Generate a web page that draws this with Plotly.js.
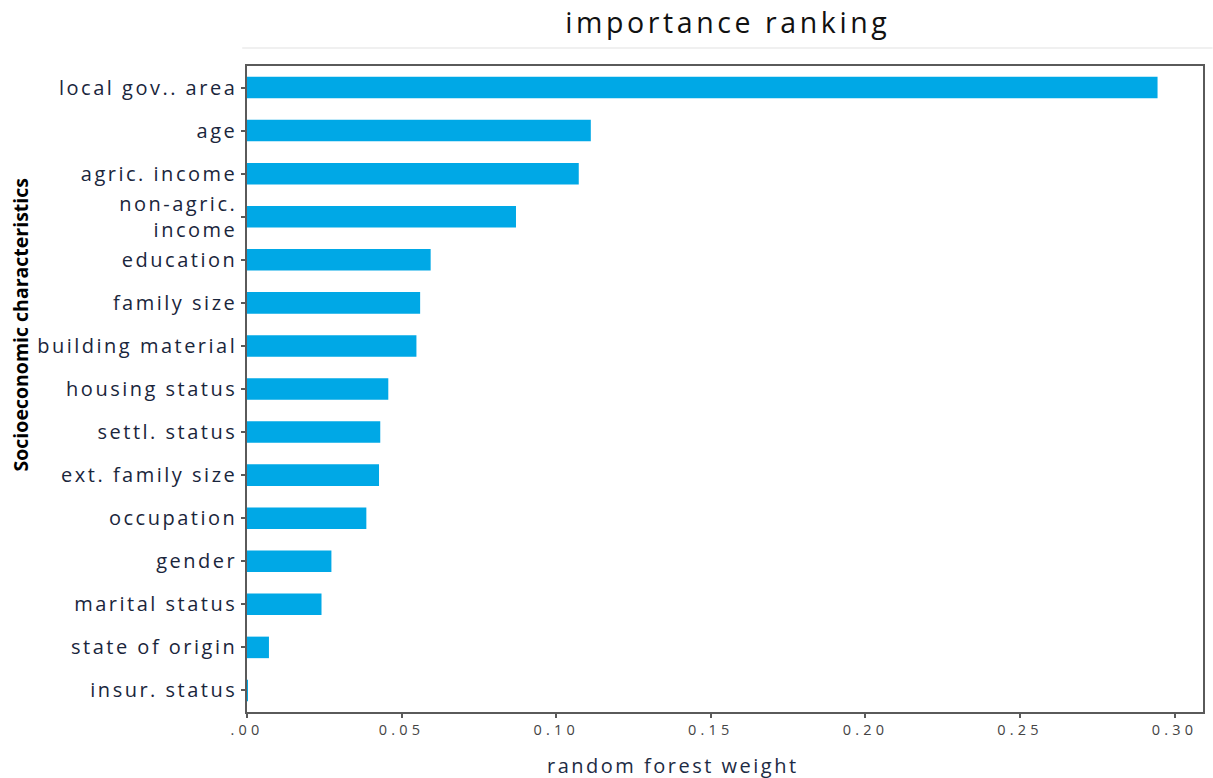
<!DOCTYPE html>
<html>
<head>
<meta charset="utf-8">
<script src="https://cdn.plot.ly/plotly-3.0.1.min.js"></script>
<style>
html,body{margin:0;padding:0;background:#fff;}
#chart{width:1213px;height:778px;}
#chart .ytick text{letter-spacing:2.5px;}
#chart .xtick text{letter-spacing:4.2px;}
#chart .gtitle{letter-spacing:3.6px;}
#chart g.annotation[data-index="0"] text{letter-spacing:2.5px;}
</style>
</head>
<body>
<div id="chart"></div>
<script>
// Data (top to bottom as displayed)
const categories = ["local gov.. area", "age", "agric. income", "non-agric.<br>income", "education",
  "family size", "building material", "housing status", "settl. status", "ext. family size",
  "occupation", "gender", "marital status", "state of origin", "insur. status"];
const weights = [0.2945, 0.1112, 0.1073, 0.0870, 0.0594, 0.0560, 0.0548, 0.0457, 0.0431, 0.0427,
  0.0386, 0.0273, 0.0241, 0.0071, 0.0002];
const xTickVals = [0, 0.05, 0.10, 0.15, 0.20, 0.25, 0.30];
const xTickText = [".00", "0.05", "0.10", "0.15", "0.20", "0.25", "0.30"];

const labelFont = "Open Sans, Lato, sans-serif";

const trace = {
  type: "bar",
  orientation: "h",
  y: categories,
  x: weights,
  width: 0.5,
  marker: {color: "#00a8e6", line: {width: 0}},
  hoverinfo: "x+y"
};

const layout = {
  width: 1213, height: 778,
  paper_bgcolor: "#ffffff", plot_bgcolor: "#ffffff",
  margin: {l: 247, r: 10, t: 66, b: 66},
  showlegend: false,
  title: {text: "importance ranking", x: 0.6, xanchor: "center", y: 0.970, yanchor: "middle",
    font: {family: labelFont, size: 28.5, color: "#111111"}},
  xaxis: {
    range: [0, 0.3092], tickvals: xTickVals, ticktext: xTickText,
    showgrid: false, zeroline: false, showline: true, mirror: true,
    linecolor: "#5a5a5a", linewidth: 1.5,
    ticks: "outside", ticklen: 4, tickcolor: "#5a5a5a", tickwidth: 1.5,
    tickfont: {family: labelFont, size: 14.5, color: "#444444"}
  },
  yaxis: {
    type: "category", autorange: false, range: [14.5, -0.5],
    showgrid: false, zeroline: false, showline: true, mirror: true,
    linecolor: "#5a5a5a", linewidth: 1.5,
    ticks: "outside", ticklen: 4, tickcolor: "#5a5a5a", tickwidth: 1.5,
    tickfont: {family: labelFont, size: 20, color: "#1a263c"},
    ticklabelstandoff: 0
  },
  shapes: [
    {type: "line", xref: "paper", yref: "paper", x0: -0.005, x1: 1.01, y0: 1.028, y1: 1.028,
      line: {color: "#f0f0f0", width: 2}}
  ],
  annotations: [
    {text: "random forest weight", xref: "paper", yref: "paper", x: 0.4456, y: -0.083,
      xanchor: "center", yanchor: "middle", showarrow: false,
      font: {family: labelFont, size: 20, color: "#1d2b44"}},
    {text: "<b>Socioeconomic characteristics</b>", xref: "paper", yref: "paper", x: -0.237, y: 0.599,
      xanchor: "center", yanchor: "middle", textangle: -90, showarrow: false,
      font: {family: labelFont, size: 19.5, color: "#000000"}}
  ]
};

Plotly.newPlot("chart", [trace], layout, {displayModeBar: false, responsive: false});
</script>
</body>
</html>
